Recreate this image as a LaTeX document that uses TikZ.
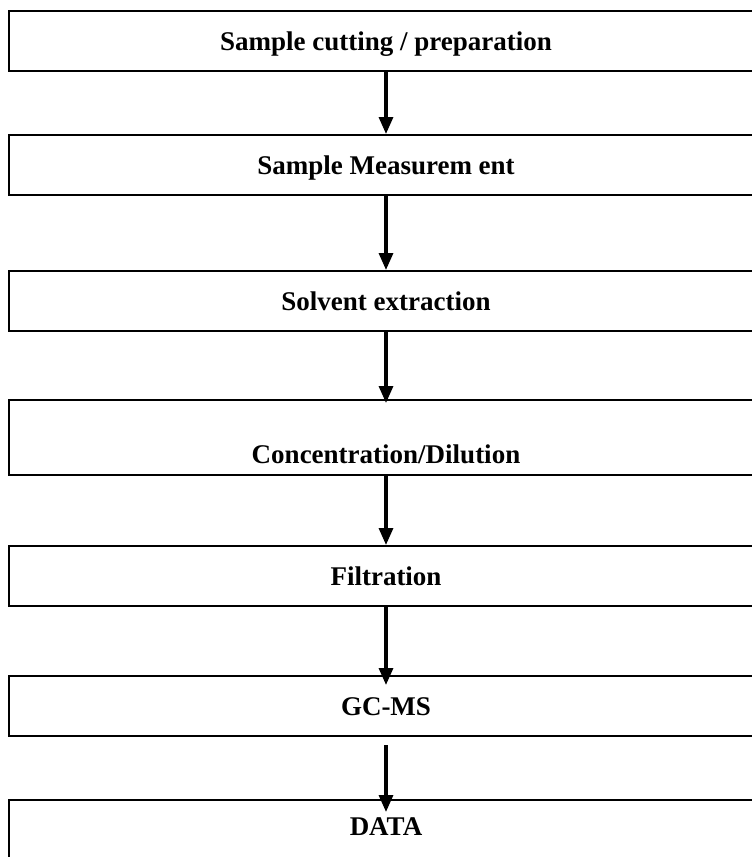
\documentclass[tikz,border=0pt]{standalone}
\usepackage{fontspec}
\setmainfont{Liberation Serif}
\usetikzlibrary{arrows.meta}
\tikzset{
  stage/.style={draw, line width=2pt, minimum width=754pt, inner sep=0pt, anchor=north,
    text height=39pt, text depth=21pt, font=\fontsize{27}{33}\selectfont\bfseries},
  flow/.style={-{Triangle[width=14pt,length=17pt]}, line width=3.2pt}
}
\begin{document}
\begin{tikzpicture}[x=1pt,y=-1pt]
		\useasboundingbox (0,0) rectangle (752,857);
		\clip (0,0) rectangle (752,857);
		\node[stage] (cut) at (386,10) {Sample cutting / preparation};
		\node[stage] (meas) at (386,134) {Sample Measurem ent};
		\node[stage] (solv) at (386,270) {Solvent extraction};
		\node[stage,text height=63pt,text depth=12pt] (conc) at (386,399) {Concentration/Dilution};
		\node[stage] (filt) at (386,545) {Filtration};
		\node[stage] (gcms) at (386,675) {GC-MS};
		\node[stage,text height=35pt,text depth=45pt] (data) at (386,799) {DATA};
		\draw[flow] (cut) -- (meas);
		\draw[flow] (meas) -- (solv);
		\draw[flow,shorten >=-4pt] (solv) -- (conc);
		\draw[flow] (conc) -- (filt);
		\draw[flow,shorten >=-10pt] (filt) -- (gcms);
		\draw[flow,shorten <=8pt,shorten >=-13pt] (gcms) -- (data);
\end{tikzpicture}
\end{document}
